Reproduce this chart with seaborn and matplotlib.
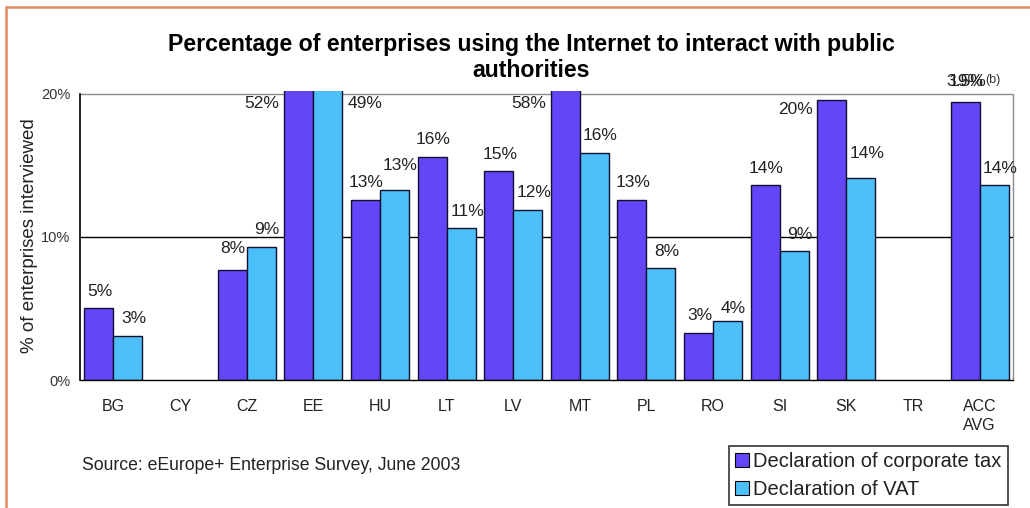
import numpy as np
import pandas as pd
import matplotlib
matplotlib.use("Agg")
import matplotlib.pyplot as plt
from matplotlib.lines import Line2D
import seaborn as sns

# ---- data -------------------------------------------------------------
countries = ["BG", "CY", "CZ", "EE", "HU", "LT", "LV", "MT", "PL", "RO",
             "SI", "SK", "TR", "ACC\nAVG"]
corporate_tax = [5.0, np.nan, 7.7, 52.0, 12.6, 15.6, 14.6, 58.0, 12.6, 3.3,
                 13.6, 19.6, np.nan, 19.4]
vat = [3.1, np.nan, 9.3, 49.0, 13.3, 10.6, 11.9, 15.9, 7.8, 4.1,
       9.0, 14.1, np.nan, 13.6]
series_names = ["Declaration of corporate tax", "Declaration of VAT"]
y_ticks = [0, 10, 20]
y_tick_labels = ["0%", "10%", "20%"]
title_text = ("Percentage of enterprises using the Internet to interact with public\n"
              "authorities")
y_label_text = "% of enterprises interviewed"
source_text = "Source: eEurope+ Enterprise Survey, June 2003"
acc_note_values = ["3.5%"]
acc_note_mark = "(b)"

# ---- style ------------------------------------------------------------
sns.set_style("white")
plt.rcParams["font.family"] = ["Liberation Sans", "DejaVu Sans"]
colors = ["#6446F8", "#4CBFF8"]
text_color = "#222222"
DPI = 100
W, H = 1030, 508
PX = 72.0 / DPI  # points per pixel

rows = []
for name, vals in zip(series_names, [corporate_tax, vat]):
    for c, v in zip(countries, vals):
        if not np.isnan(v):
            rows.append({"country": c, "series": name, "value": v})
df = pd.DataFrame(rows)

fig = plt.figure(figsize=(W / DPI, H / DPI), dpi=DPI)
ax = fig.add_axes([80 / W, 1 - 380 / H, (1013 - 80) / W, (380 - 91) / H])

sns.barplot(data=df, x="country", y="value", hue="series",
            order=countries, hue_order=series_names, palette=colors,
            width=0.87, edgecolor="#101030", linewidth=1.0, errorbar=None,
            saturation=1, ax=ax)

ax.set_xlim(-0.5, len(countries) - 0.5)
ax.set_ylim(0, 20.2)

# gridlines and plot-area frame
ax.axhline(10, color="black", lw=1.0, zorder=0.5)
ax.axhline(20, color="#8a8a8a", lw=1.0, zorder=0.5)
ax.plot([len(countries) - 0.5] * 2, [0, 20], color="#8a8a8a", lw=1.0,
        clip_on=False, zorder=0.5)
for s in ["top", "right"]:
    ax.spines[s].set_visible(False)
ax.spines["left"].set_bounds(0, 20)
ax.spines["left"].set_color("black")
ax.spines["left"].set_linewidth(1.2)
ax.spines["bottom"].set_color("black")
ax.spines["bottom"].set_linewidth(1.0)

# y axis
ax.set_yticks(y_ticks)
ax.set_yticklabels(y_tick_labels, fontsize=10.5, color="#333333")
ax.tick_params(axis="y", length=5, width=1, direction="out", color="black", pad=2)
ax.set_ylabel("")
ax.set_xlabel("")

# x axis: labels centred in each group, tick marks on group boundaries
ax.set_xticks(range(len(countries)))
ax.set_xticklabels(countries, fontsize=11.5, color=text_color, linespacing=1.3)
ax.tick_params(axis="x", which="major", length=0, pad=14)
ax.set_xticks(np.arange(-0.5, len(countries)), minor=True)
ax.tick_params(axis="x", which="minor", length=5, width=1, direction="out",
               color="black")

# ---- value labels -----------------------------------------------------
side = {(3, 0): "left", (3, 1): "right", (7, 0): "left", (11, 0): "left"}
dy_px = {(2, 0): 21, (4, 1): 24, (11, 1): 25, (9, 1): 13, (13, 0): 21}
dx_px = {0: 1, 1: 6}
label_fs = 12.5
series_vals = [corporate_tax, vat]
for k, cont in enumerate(ax.containers):
    for bar in cont:
        x0, w = bar.get_x(), bar.get_width()
        idx = int(round(x0 + w / 2))
        v = series_vals[k][idx]
        if np.isnan(v):
            continue
        txt = f"{v:.0f}%"
        top = min(v, 20)
        place = side.get((idx, k), "above")
        if place == "left":
            ax.annotate(txt, (x0, top), xytext=(-5 * PX, -10 * PX),
                        textcoords="offset points", ha="right", va="center",
                        fontsize=label_fs, color=text_color, annotation_clip=False)
        elif place == "right":
            ax.annotate(txt, (x0 + w, top), xytext=(5 * PX, -10 * PX),
                        textcoords="offset points", ha="left", va="center",
                        fontsize=label_fs, color=text_color, annotation_clip=False)
        else:
            dy = dy_px.get((idx, k), 17)
            ax.annotate(txt, (x0 + w / 2, top), xytext=(dx_px[k] * PX, dy * PX),
                        textcoords="offset points", ha="center", va="center",
                        fontsize=label_fs, color=text_color, annotation_clip=False)
            if idx == len(countries) - 1 and k == 0:
                for extra in acc_note_values:
                    ax.annotate(extra, (x0 + w / 2, top),
                                xytext=(dx_px[k] * PX, dy * PX),
                                textcoords="offset points", ha="center",
                                va="center", fontsize=label_fs, color=text_color,
                                annotation_clip=False)
                ax.annotate(acc_note_mark, (x0 + w / 2, top),
                            xytext=(28 * PX, (dy + 1) * PX),
                            textcoords="offset points", ha="center",
                            va="center", fontsize=9, color="#333333",
                            annotation_clip=False)

# ---- legend -----------------------------------------------------------
handles, labels = ax.get_legend_handles_labels()
ax.get_legend().remove()
leg = fig.legend(handles, labels, loc="upper right",
                 bbox_to_anchor=(1008 / W, 1 - 446 / H),
                 bbox_transform=fig.transFigure, fontsize=14.5, frameon=True,
                 fancybox=False, shadow=False, edgecolor="black",
                 handlelength=0.7, handleheight=0.7, handletextpad=0.2,
                 labelspacing=0.42, borderpad=0.32, borderaxespad=0)
leg.get_frame().set_linewidth(1.2)
for t in leg.get_texts():
    t.set_color(text_color)
for hnd in leg.legend_handles:
    hnd.set_edgecolor("black")
    hnd.set_linewidth(0.8)

# ---- titles and notes -------------------------------------------------
fig.text(531 / W, 1 - 57.5 / H, title_text, ha="center", va="center",
         fontsize=16.7, fontweight="bold", color="black", linespacing=1.12)
fig.text(30 / W, 1 - 236 / H, y_label_text, rotation=90, ha="center",
         va="center", fontsize=13.5, color=text_color)
fig.text(82 / W, 1 - 466 / H, source_text, ha="left", va="center",
         fontsize=12.7, color=text_color)

# page frame on the left and top
fig.add_artist(Line2D([6 / W, 6 / W], [0, 1 - 7 / H], transform=fig.transFigure,
                      color="#E38B62", lw=1.8))
fig.add_artist(Line2D([6 / W, 1], [1 - 7 / H, 1 - 7 / H], transform=fig.transFigure,
                      color="#E38B62", lw=1.8))

fig.savefig("out.png", dpi=DPI, facecolor="white")
